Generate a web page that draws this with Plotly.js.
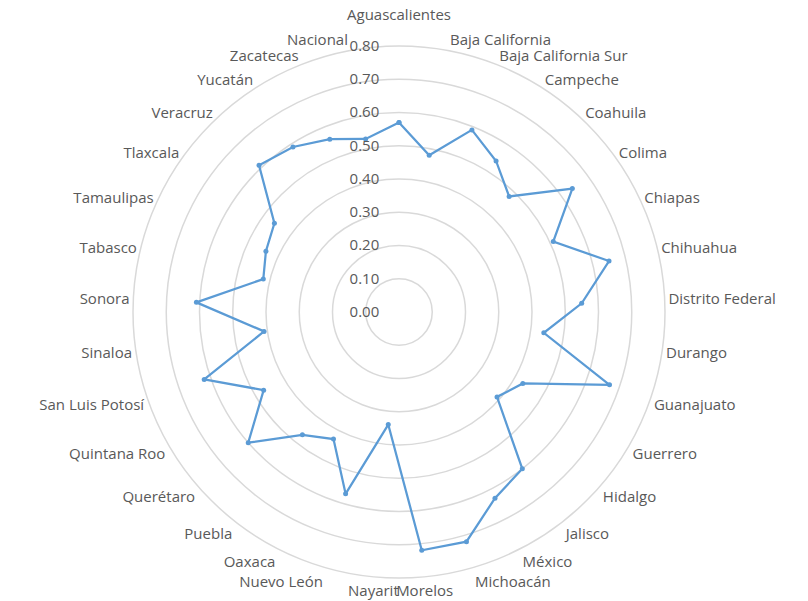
<!DOCTYPE html>
<html>
<head>
<meta charset="utf-8">
<script src="https://cdn.plot.ly/plotly-3.0.1.min.js"></script>
<style>html,body{margin:0;padding:0;background:#fff;}#chart{width:808px;height:601px;}</style>
</head>
<body>
<div id="chart"></div>
<script>
const categories = ["Aguascalientes","Baja California","Baja California Sur","Campeche","Coahuila","Colima","Chiapas","Chihuahua","Distrito Federal","Durango","Guanajuato","Guerrero","Hidalgo","Jalisco","México","Michoacán","Morelos","Nayarit","Nuevo León","Oaxaca","Puebla","Querétaro","Quintana Roo","San Luis Potosí","Sinaloa","Sonora","Tabasco","Tamaulipas","Tlaxcala","Veracruz","Yucatán","Zacatecas","Nacional"];
const values = [0.57,0.48,0.59,0.54,0.48,0.64,0.51,0.65,0.55,0.44,0.67,0.43,0.39,0.60,0.63,0.72,0.72,0.34,0.57,0.43,0.47,0.60,0.47,0.62,0.41,0.61,0.42,0.44,0.46,0.61,0.59,0.56,0.53];
const radialTicks = [0,0.1,0.2,0.3,0.4,0.5,0.6,0.7,0.8];
const radialTickText = ["0.00","0.10","0.20","0.30","0.40","0.50","0.60","0.70","0.80"];

const W = 808, H = 601;
const cx = 399, cy = 312, R = 266;

// lift the top label one line so it clears its neighbours, as in the reference
const angularTickText = categories.map((c, i) => i === 0 ? c + '<br> ' : c);

const trace = {
  type: 'scatterpolar',
  r: values.concat([values[0]]),
  theta: categories.concat([categories[0]]),
  mode: 'lines+markers',
  line: {color: '#5B9BD5', width: 2.25},
  marker: {color: '#5B9BD5', size: 5},
  hoverinfo: 'none',
  showlegend: false
};

const layout = {
  width: W, height: H,
  margin: {l: 0, r: 0, t: 0, b: 0},
  paper_bgcolor: '#ffffff',
  showlegend: false,
  font: {family: 'Open Sans, sans-serif', size: 15, color: '#595959'},
  polar: {
    domain: {x: [(cx - R) / W, (cx + R) / W], y: [1 - (cy + R) / H, 1 - (cy - R) / H]},
    bgcolor: 'rgba(0,0,0,0)',
    gridshape: 'circular',
    angularaxis: {
      direction: 'clockwise',
      rotation: 90,
      showgrid: false,
      showline: true,
      linecolor: '#d9d9d9',
      linewidth: 1.5,
      ticks: '',
      tickmode: 'array',
      tickvals: categories,
      ticktext: angularTickText,
      tickfont: {family: 'Open Sans, sans-serif', size: 15, color: '#595959'}
    },
    radialaxis: {
      range: [0, 0.8],
      angle: 90,
      side: 'counterclockwise',
      tickangle: 90,
      tickvals: radialTicks,
      ticktext: radialTickText,
      showline: false,
      ticks: 'outside',
      ticklen: 14,
      tickcolor: 'rgba(0,0,0,0)',
      gridcolor: '#d9d9d9',
      gridwidth: 1.5,
      tickfont: {family: 'Open Sans, sans-serif', size: 15, color: '#595959'}
    }
  }
};

Plotly.newPlot('chart', [trace], layout, {displayModeBar: false, staticPlot: true});
</script>
</body>
</html>
